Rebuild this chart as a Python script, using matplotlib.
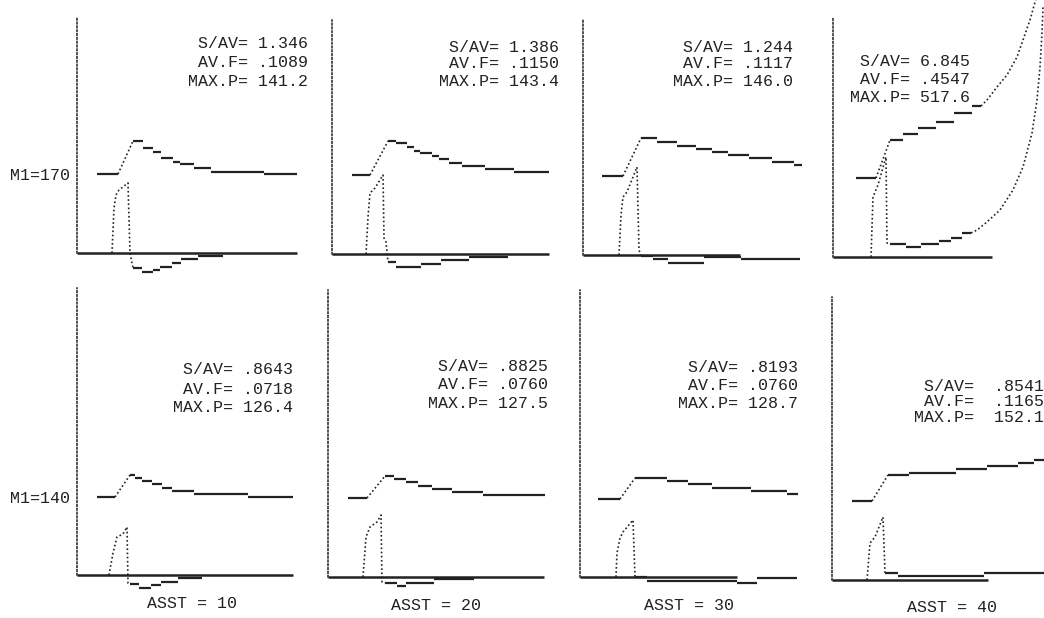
import matplotlib.pyplot as plt

# panel order: top row ASST 10,20,30,40 (M1=170), then bottom row (M1=140)
asst = [10, 20, 30, 40]
m1 = [170, 140]

s_av = ['1.346', '1.386', '1.244', '6.845', '.8643', '.8825', '.8193', ' .8541']
av_f = ['.1089', '.1150', '.1117', '.4547', '.0718', '.0760', '.0760', ' .1165']
max_p = ['141.2', '143.4', '146.0', '517.6', '126.4', '127.5', '128.7', ' 152.1']

# pressure trace: initial flat, then steps after the ramp, optional dotted tail
press_flat_x = [(20, 41), (20, 38), (19, 40), (23, 43), (20, 38), (20, 39), (18, 40), (20, 40)]
press_flat_y = [79, 79, 79, 79, 78, 79, 78, 79]
press_step_x = [
    [56, 66, 76, 84, 96, 103, 117, 134, 187, 220],
    [56, 64, 75, 82, 88, 100, 107, 117, 130, 153, 182, 217],
    [58, 74, 94, 113, 129, 145, 166, 189, 211, 219],
    [57, 70, 85, 103, 121, 139, 148],
    [53, 58, 65, 75, 85, 95, 117, 171, 216],
    [57, 66, 78, 90, 104, 124, 155, 217],
    [55, 87, 108, 132, 171, 207, 218],
    [56, 77, 124, 155, 186, 202, 225],
]
press_step_y = [
    [112, 105, 101, 95, 91, 89, 85, 81, 79],
    [113, 111, 107, 103, 101, 98, 95, 91, 88, 85, 82],
    [117, 113, 109, 106, 103, 100, 97, 93, 90],
    [117, 123, 129, 135, 144, 151],
    [100, 97, 94, 91, 87, 84, 81, 78],
    [101, 98, 95, 91, 88, 85, 82],
    [99, 96, 93, 89, 86, 83],
    [105, 107, 111, 114, 117, 120],
]
press_tail_x = [[], [], [], [154, 164, 174, 184, 190, 197, 204], [], [], [], []]
press_tail_y = [[], [], [], [157, 170, 182, 200, 217, 237, 262], [], [], [], []]

# flow trace: dotted pulse, then steps, optional dotted tail
flow_pulse_x = [
    [35, 37, 39, 42, 51, 53, 56],
    [34, 36, 38, 43, 51, 52, 54, 56],
    [36, 38, 40, 44, 54, 56, 58],
    [38, 40, 45, 53, 54, 57],
    [32, 36, 40, 46, 50, 51, 53],
    [35, 38, 42, 49, 53, 54, 57],
    [36, 37, 40, 43, 53, 55],
    [35, 38, 43, 51, 53],
]
flow_pulse_y = [
    [0, 45, 58, 63, 70, 0, -15],
    [0, 37, 61, 66, 79, 16, 12, -8],
    [0, 40, 58, 63, 88, 5, -1],
    [0, 60, 72, 100, 14, 13],
    [0, 22, 38, 41, 48, -8, -9],
    [0, 40, 50, 55, 62, -5, -6],
    [0, 24, 39, 45, 57, 0],
    [0, 37, 43, 63, 7],
]
flow_step_x = [
    [56, 65, 76, 83, 95, 104, 121, 146],
    [56, 64, 89, 109, 137, 176],
    [58, 70, 85, 121, 158, 217],
    [57, 73, 88, 106, 118, 129, 138],
    [53, 62, 74, 84, 101, 125],
    [57, 69, 78, 106, 146],
    [55, 67, 157, 177, 217],
    [53, 66, 152, 225],
]
flow_step_y = [
    [-15, -19, -17, -14, -10, -6, -3],
    [-8, -13, -10, -6, -3],
    [-1, -4, -8, -2, -4],
    [13, 10, 13, 16, 19, 24],
    [-9, -13, -10, -7, -3],
    [-6, -9, -6, -2],
    [0, -4, -6, -1],
    [7, 4, 7],
]
flow_tail_x = [[], [], [], [144, 154, 167, 180, 190, 199, 204, 207, 209, 210], [], [], [], []]
flow_tail_y = [[], [], [], [27, 35, 47, 67, 90, 124, 157, 190, 224, 250], [], [], [], []]

base_end = [220, 217, 157, 159, 216, 216, 157, 156]
axis_top = [236, 234, 235, 239, 287, 287, 287, 283]

# layout (pixels)
W, H = 1044, 618
ax_left = [77, 332, 583, 833, 77, 328, 580, 832]
ax_base = [253, 254, 255, 257, 575, 577, 577, 580]
stat_x = [231, 227, 210, 137, 216, 220, 218, 212]
stat_y = [209, 207, 208, 195, 205, 210, 209, 193]
stat_gap = [18.5, 17, 17, 17.5, 19, 18, 18, 15]
label_x = [115, 108, 109, 120]

INK = '#222222'
DOT = (0, (1, 1.5))
FONT = 'Liberation Mono'

fig = plt.figure(figsize=(W / 100, H / 100), dpi=100)

for i in range(8):
    row, col = divmod(i, 4)
    ax = fig.add_axes([ax_left[i] / W, (H - ax_base[i] - 40) / H, 240 / W, 340 / H])
    ax.set_xlim(0, 240)
    ax.set_ylim(-40, 300)
    ax.patch.set_visible(False)
    for s in ['top', 'right', 'bottom']:
        ax.spines[s].set_visible(False)
    ax.spines['left'].set_bounds(0, axis_top[i])
    ax.spines['left'].set_linestyle(DOT)
    ax.spines['left'].set_linewidth(1.1)
    ax.spines['left'].set_color(INK)
    ax.set_xticks([])
    if col == 0:
        ax.set_yticks([press_flat_y[i]])
        ax.set_yticklabels([f'M1={m1[row]}'], family=FONT, size=12, color=INK)
        ax.tick_params(axis='y', length=0, pad=5)
    else:
        ax.set_yticks([])

    # baseline
    ax.hlines(0, 0, base_end[i], color=INK, lw=1.8)

    # pressure
    fx0, fx1 = press_flat_x[i]
    ax.hlines(press_flat_y[i], fx0, fx1, color=INK, lw=1.6)
    ax.plot([fx1, press_step_x[i][0]], [press_flat_y[i], press_step_y[i][0]],
            ls=DOT, color=INK, lw=1.2)
    ax.hlines(press_step_y[i], press_step_x[i][:-1], press_step_x[i][1:], color=INK, lw=1.6)
    if press_tail_x[i]:
        ax.plot([press_step_x[i][-1]] + press_tail_x[i], [press_step_y[i][-1]] + press_tail_y[i],
                ls=DOT, color=INK, lw=1.2)

    # flow
    ax.plot(flow_pulse_x[i], flow_pulse_y[i], ls=DOT, color=INK, lw=1.2)
    ax.hlines(flow_step_y[i], flow_step_x[i][:-1], flow_step_x[i][1:], color=INK, lw=1.6)
    if flow_tail_x[i]:
        ax.plot([flow_step_x[i][-1]] + flow_tail_x[i], [flow_step_y[i][-1]] + flow_tail_y[i],
                ls=DOT, color=INK, lw=1.2)

    # stats block
    lines = [f'S/AV= {s_av[i]}', f'AV.F= {av_f[i]}', f'MAX.P= {max_p[i]}']
    for j, txt in enumerate(lines):
        ax.text(stat_x[i], stat_y[i] - j * stat_gap[i], txt, ha='right', va='center',
                family=FONT, size=12, color=INK)

    if row == 1:
        ax.text(label_x[col], -28, f'ASST = {asst[col]}', ha='center', va='center',
                family=FONT, size=12, color=INK)

fig.savefig('out.png', dpi=100)
